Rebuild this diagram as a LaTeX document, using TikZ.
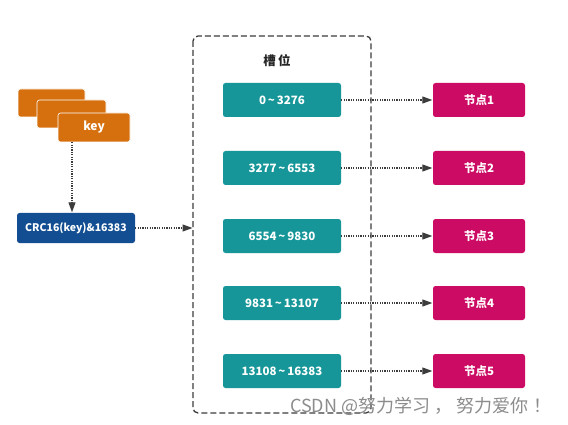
\documentclass[tikz,border=0pt]{standalone}
\usepackage{fontspec}
\setmainfont{Open Sans}
\newfontfamily\cjk{Noto Sans CJK SC}
\usetikzlibrary{arrows.meta}
\definecolor{korange}{RGB}{214,112,14}
\definecolor{kblue}{RGB}{18,78,145}
\definecolor{kteal}{RGB}{22,150,152}
\definecolor{kpink}{RGB}{204,12,100}
\definecolor{kline}{RGB}{60,60,60}
\begin{document}
\begin{tikzpicture}[x=1pt,y=-1pt,
  boxbase/.style={rounded corners=2.5pt, text=white, inner sep=0pt,
    font=\cjk\bfseries\fontsize{11.5}{13}\selectfont},
  keybox/.style={boxbase, fill=korange, draw=white, line width=0.6pt},
  crcbox/.style={boxbase, fill=kblue, minimum width=118pt, minimum height=30pt,
    font=\cjk\bfseries\fontsize{10.5}{13}\selectfont},
  slotbox/.style={boxbase, fill=kteal, minimum width=118pt, minimum height=34pt},
  nodebox/.style={boxbase, fill=kpink, minimum width=92pt, minimum height=34pt},
  flow/.style={kline, line width=1.1pt, dash pattern=on 1.1pt off 1.3pt, shorten >=0.5pt,
    -{Triangle[length=10pt,width=7pt,fill=kline]}},
]
\useasboundingbox[fill=white] (0,0) rectangle (568,425);
% stacked key boxes
\node[keybox, minimum width=67pt, minimum height=28pt] (k1) at (51.5,103) {};
\node[keybox, minimum width=69pt, minimum height=28pt] (k2) at (71.5,114) {};
\node[keybox, minimum width=72pt, minimum height=29pt, font=\cjk\bfseries\fontsize{12}{13}\selectfont] (k3) at (94,127.5) {key};
\node[crcbox] (crc) at (76,228) {CRC16(key)\&16383};
\draw[flow] (k3.south -| crc.north) ++(-4,0) coordinate (kd) -- (kd |- crc.north);
% dashed container
\draw[kline, line width=1.3pt, dash pattern=on 6pt off 3pt, rounded corners=5pt]
  (193,36) rectangle (371,413);
\coordinate (cin) at (193,228);
\draw[flow] (crc.east) -- (cin);
\node[font=\cjk\bfseries\fontsize{12.5}{14}\selectfont, text=black!85] (title) at (277,61) {槽\,位};
% slots and nodes
\foreach \i/\y/\r in {1/100/0\,{\char"7E}\,3276, 2/168/3277\,{\char"7E}\,6553,
    3/236/6554\,{\char"7E}\,9830, 4/303/9831\,{\char"7E}\,13107, 5/371/13108\,{\char"7E}\,16383}{
  \node[slotbox] (s\i) at (282,\y) {\r};
  \node[nodebox] (n\i) at (479,\y) {节点\i};
  \draw[flow] (s\i.east) -- (n\i.west);
}
% watermark
\node[font=\cjk\fontsize{18}{20}\selectfont, text=black!45, anchor=west, inner sep=0pt] (wm) at (290,406) {CSDN @努力学习\hspace{4pt}，\hspace{4pt}努力爱你\hspace{5pt}！};
\end{tikzpicture}
\end{document}
